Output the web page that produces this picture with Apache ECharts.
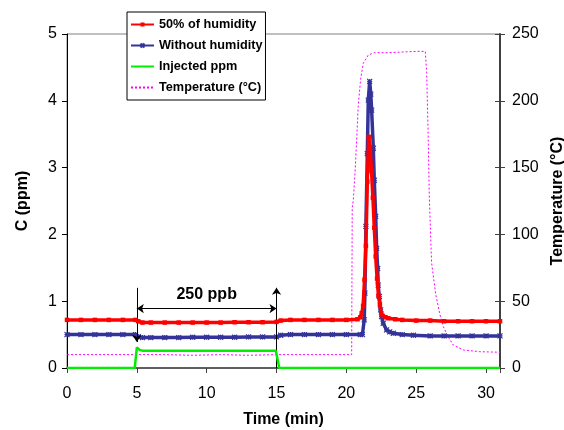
<!DOCTYPE html>
<html><head><meta charset="utf-8">
<script src="https://cdn.jsdelivr.net/npm/echarts@6/dist/echarts.min.js"></script>
<style>html,body{margin:0;padding:0;background:#fff}#c{width:564px;height:430px}</style>
</head><body><div id="c"></div>
<script>
// [time (min), C (ppm)]
const humid50 = [[0,0.72],[1,0.72],[2,0.72],[3,0.72],[4,0.72],[4.9,0.72],[5.1,0.70],[5.4,0.68],[6,0.68],[7,0.68],[8,0.68],[9,0.68],[10,0.68],[11,0.68],[12,0.685],[13,0.685],[14,0.685],[15,0.69],[15.3,0.71],[16,0.72],[17,0.72],[18,0.72],[19,0.72],[20,0.72],[20.8,0.73],[21.0,0.76],[21.1,0.82],[21.2,0.93],[21.3,1.32],[21.4,1.83],[21.5,2.79],[21.6,3.46],[21.7,3.3],[21.8,2.95],[21.9,2.55],[22.0,2.1],[22.1,1.67],[22.2,1.34],[22.3,1.08],[22.4,0.95],[22.5,0.82],[22.6,0.78],[22.8,0.76],[23.0,0.745],[23.5,0.73],[24,0.72],[25,0.71],[26,0.71],[27,0.70],[28,0.70],[29,0.70],[30,0.70],[31,0.70]];
const noHumid = [[0,0.50],[1,0.50],[2,0.50],[3,0.50],[4,0.50],[4.9,0.50],[5.1,0.47],[5.4,0.455],[6,0.455],[7,0.455],[8,0.455],[9,0.46],[10,0.46],[11,0.46],[12,0.46],[13,0.465],[14,0.465],[15,0.465],[15.3,0.49],[16,0.50],[17,0.50],[18,0.50],[19,0.50],[20,0.50],[21.0,0.50],[21.15,0.50],[21.28,0.72],[21.33,1.12],[21.4,2.12],[21.5,3.21],[21.57,4.01],[21.67,4.29],[21.75,4.1],[21.81,3.86],[21.93,3.29],[22.0,2.81],[22.1,2.27],[22.17,1.79],[22.24,1.49],[22.28,1.24],[22.36,1.07],[22.45,0.87],[22.52,0.77],[22.64,0.67],[22.88,0.57],[23.1,0.54],[23.36,0.52],[24,0.50],[24.8,0.49],[26,0.48],[27,0.48],[28,0.48],[29,0.48],[30,0.48],[31,0.48]];
const injected = [[0,0],[4.85,0],[5.0,0.31],[5.2,0.27],[5.4,0.26],[10,0.26],[14.95,0.26],[15.2,0],[31,0]];
// [time (min), temperature (°C)]
const temperature = [[0,10],[5,10],[7,10],[9,9.5],[11,10],[13,9.5],[15,10],[18,10],[20,10],[20.38,10],[20.42,120],[20.5,126],[20.62,146],[20.74,171],[20.85,196],[21.02,216],[21.21,228],[21.57,234.3],[22,236],[23,236],[24,236.5],[25,237],[25.65,237],[25.75,221],[25.85,178],[25.94,128],[26.1,79],[26.4,55],[26.7,40],[26.94,31],[27.29,23.4],[27.65,17.2],[28.37,13.5],[29.56,12.2],[31,11.8]];
const xTickValues = [0,5,10,15,20,25,30];
const cTicks = [0,1,2,3,4,5];
const tTicks = [0,50,100,150,200,250];
const annotation = {text:'250 ppb', start:5, end:15, arrowY:0.89, top:1.2, leftBottom:0.39, rightBottom:0};

const FONT = "'Liberation Sans', Arial, sans-serif";
const chart = echarts.init(document.getElementById('c'), null, {renderer:'canvas'});
const star = 'path://M0,0L10,10M10,0L0,10M5,0L5,10M0,5L10,5';
const hidden = {color:'rgba(0,0,0,0)',borderWidth:0,opacity:0};
chart.setOption({
  animation:false,
  textStyle:{fontFamily:FONT},
  grid:{left:67,right:64,top:34,bottom:62,show:true,borderColor:'#808080',borderWidth:1,
    containLabel:false,outerBoundsMode:'none'},
  legend:{
    orient:'vertical', left:127, top:12, selectedMode:false,
    backgroundColor:'#fff', borderColor:'#000', borderWidth:1,
    padding:[6,3,6,3], itemWidth:23, itemHeight:5, itemGap:8,
    textStyle:{fontFamily:FONT,fontSize:12.7,fontWeight:'bold',color:'#000'},
    data:[
      {name:'50% of humidity'},
      {name:'Without humidity'},
      {name:'Injected ppm',itemStyle:hidden},
      {name:'Temperature (°C)',itemStyle:hidden}
    ]
  },
  xAxis:{
    type:'value', min:0, max:31, interval:5,
    name:'Time (min)', nameLocation:'middle', nameGap:44,
    nameTextStyle:{fontFamily:FONT,fontSize:16,fontWeight:'bold',color:'#000'},
    axisLine:{lineStyle:{color:'#404040',width:1.5}},
    axisTick:{length:5,lineStyle:{color:'#404040'}},
    axisLabel:{fontFamily:FONT,fontSize:16,color:'#000',margin:18,
      formatter:v=>xTickValues.includes(v)?String(v):''},
    splitLine:{show:false}
  },
  yAxis:[{
    type:'value', min:cTicks[0], max:cTicks[cTicks.length-1], interval:1,
    name:'C (ppm)', nameLocation:'middle', nameGap:36, nameRotate:90,
    nameTextStyle:{fontFamily:FONT,fontSize:16,fontWeight:'bold',color:'#000',padding:[0,0,0,0]},
    axisLine:{show:true,lineStyle:{color:'#000',width:1}},
    axisTick:{show:true,length:5,lineStyle:{color:'#000'}},
    axisLabel:{fontFamily:FONT,fontSize:16,color:'#000',margin:10},
    splitLine:{show:false}
  },{
    type:'value', position:'right', min:tTicks[0], max:tTicks[tTicks.length-1], interval:50,
    name:'Temperature (°C)', nameLocation:'middle', nameGap:48, nameRotate:90,
    nameTextStyle:{fontFamily:FONT,fontSize:16,fontWeight:'bold',color:'#000'},
    axisLine:{show:true,lineStyle:{color:'#404040',width:2}},
    axisTick:{show:true,length:5,lineStyle:{color:'#404040'}},
    axisLabel:{fontFamily:FONT,fontSize:16,color:'#000',margin:12},
    splitLine:{show:false}
  },{
    type:'value', position:'right', min:tTicks[0], max:tTicks[tTicks.length-1], interval:50,
    axisLine:{show:false},
    axisTick:{show:true,inside:true,length:5,lineStyle:{color:'#404040'}},
    axisLabel:{show:false}, splitLine:{show:false}
  }],
  series:[{
    name:'50% of humidity', type:'line', data:humid50, yAxisIndex:0,
    symbol:'rect', symbolSize:4.5, showAllSymbol:true, z:5,
    lineStyle:{color:'#ff0000',width:3.5}, itemStyle:{color:'#ff0000'}
  },{
    name:'Without humidity', type:'line', data:noHumid, yAxisIndex:0,
    symbol:star, symbolSize:5, showAllSymbol:true, z:4,
    lineStyle:{color:'#333399',width:3.5}, itemStyle:{color:'#333399',borderColor:'#333399',borderWidth:1.2}
  },{
    name:'Injected ppm', type:'line', data:injected, yAxisIndex:0,
    showSymbol:false, symbol:'none', z:6,
    lineStyle:{color:'#00ee00',width:2.5}, itemStyle:{color:'#00ee00'},
    markLine:{
      silent:true, symbol:['none','none'], symbolSize:7,
      lineStyle:{color:'#000',width:1,type:'solid'},
      label:{show:false},
      data:[
        [{coord:[annotation.start,annotation.top],symbol:'none'},{coord:[annotation.start,annotation.leftBottom],symbol:'arrow'}],
        [{coord:[annotation.end,annotation.rightBottom],symbol:'none'},{coord:[annotation.end,annotation.top],symbol:'arrow'}],
        [{coord:[annotation.start,annotation.arrowY],symbol:'arrow'},{coord:[annotation.end,annotation.arrowY],symbol:'arrow',
          label:{show:true,position:'insideMiddleTop',distance:6,formatter:annotation.text,
            fontFamily:FONT,fontSize:16,fontWeight:'bold',color:'#000'}}]
      ]
    }
  },{
    name:'Temperature (°C)', type:'line', data:temperature, yAxisIndex:1,
    showSymbol:false, symbol:'none', z:3,
    lineStyle:{color:'#ff00ff',width:1,type:[2,2]}, itemStyle:{color:'#ff00ff'}
  }]
});
</script></body></html>
